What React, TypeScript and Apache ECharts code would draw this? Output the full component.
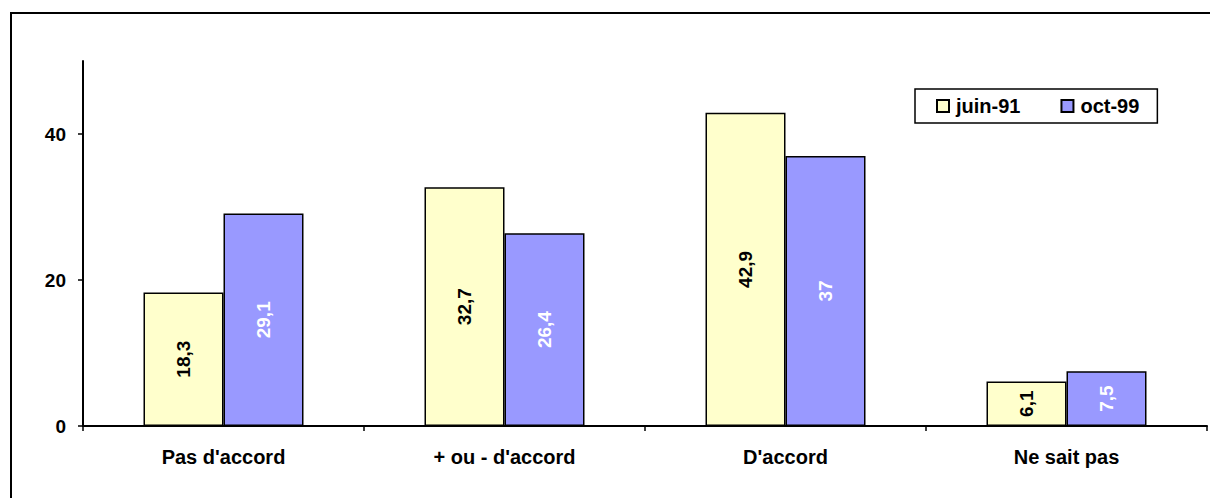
import React, { useEffect, useRef } from "react";
import * as echarts from "echarts";

const categories = ["Pas d'accord", "+ ou - d'accord", "D'accord", "Ne sait pas"];
const juin91 = [18.3, 32.7, 42.9, 6.1];
const oct99 = [29.1, 26.4, 37, 7.5];
const yTicks = [0, 20, 40];

const FONT = "'Liberation Sans', Arial, sans-serif";

export default function App() {
  const ref = useRef<HTMLDivElement>(null);
  useEffect(() => {
    const chart = echarts.init(ref.current!, undefined, { renderer: "svg" });
    const fmt = (p: any) => String(p.value).replace(".", ",");
    chart.setOption({
      animation: false,
      backgroundColor: "#fff",
      textStyle: { fontFamily: FONT },
      graphic: [
        {
          type: "rect",
          shape: { x: 11, y: 13, width: 1220, height: 500 },
          style: { fill: "none", stroke: "#000", lineWidth: 2 },
          silent: true,
        },
      ],
      legend: {
        left: 915,
        top: 89,
        orient: "horizontal",
        borderColor: "#000",
        borderWidth: 1.5,
        padding: [7, 18, 7, 21],
        itemGap: 40,
        itemWidth: 12,
        itemHeight: 12,
        icon: "rect",
        textStyle: { fontFamily: FONT, fontWeight: "bold", fontSize: 20, color: "#000", padding: [0, 0, 0, 2] },
        data: ["juin-91", "oct-99"],
      },
      grid: { left: 83, right: 3, top: 61, bottom: 72, containLabel: false },
      xAxis: {
        type: "category",
        data: categories,
        boundaryGap: true,
        axisLine: { lineStyle: { color: "#000", width: 2 } },
        axisTick: { show: true, length: 5, interval: 0, lineStyle: { color: "#000", width: 1.5 } },
        axisLabel: { fontFamily: FONT, fontWeight: "bold", fontSize: 20, color: "#000", margin: 21 },
      },
      yAxis: {
        type: "value",
        min: 0,
        max: 50,
        interval: 10,
        splitLine: { show: false },
        axisLine: { show: true, lineStyle: { color: "#000", width: 2 } },
        axisTick: { show: true, length: 5, customValues: yTicks, lineStyle: { color: "#000", width: 1.5 } },
        axisLabel: { fontFamily: FONT, fontWeight: "bold", fontSize: 19, color: "#000", margin: 17, customValues: yTicks },
      },
      series: [
        {
          name: "juin-91",
          type: "bar",
          data: juin91,
          barWidth: 80,
          barGap: "0%",
          itemStyle: { color: "#FFFFCC", borderColor: "#000", borderWidth: 1.5 },
          label: {
            show: true,
            position: "inside",
            rotate: 90,
            formatter: fmt,
            fontFamily: FONT,
            fontWeight: "bold",
            fontSize: 19,
            color: "#000",
          },
        },
        {
          name: "oct-99",
          type: "bar",
          data: oct99,
          barWidth: 80,
          barGap: "0%",
          itemStyle: { color: "#9999FF", borderColor: "#000", borderWidth: 1.5 },
          label: {
            show: true,
            position: "inside",
            rotate: 90,
            formatter: fmt,
            fontFamily: FONT,
            fontWeight: "bold",
            fontSize: 19,
            color: "#fff",
          },
        },
      ],
    });
    return () => chart.dispose();
  }, []);
  return (
    <div
      ref={ref}
      style={{ position: "fixed", left: 0, top: 0, width: 1210, height: 498 }}
    />
  );
}
